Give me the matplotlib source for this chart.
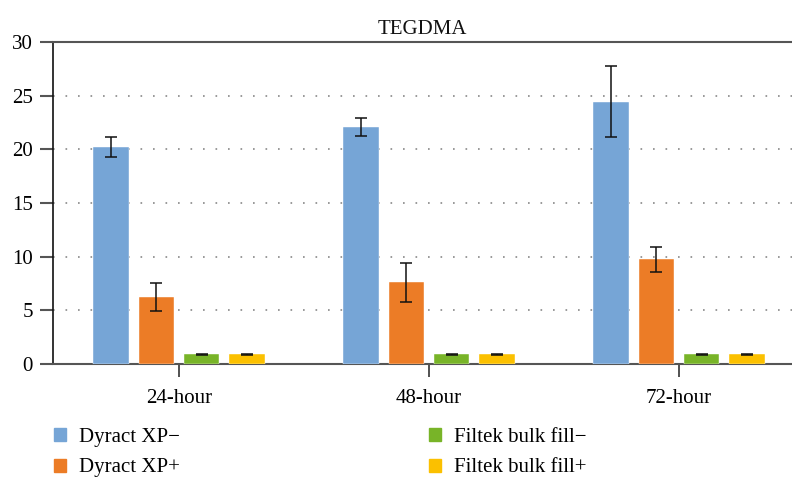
import matplotlib.pyplot as plt
import matplotlib.patches as mpatches
import numpy as np

plt.rcParams['font.family'] = ['Liberation Serif', 'DejaVu Serif']

groups = ["24-hour", "48-hour", "72-hour"]
series = ["Dyract XP\u2212", "Dyract XP+", "Filtek bulk fill\u2212", "Filtek bulk fill+"]
dyract_minus = [20.2, 22.1, 24.45]
dyract_minus_err = [0.95, 0.83, 3.3]
dyract_plus = [6.25, 7.6, 9.75]
dyract_plus_err = [1.3, 1.8, 1.15]
filtek_minus = [0.9, 0.9, 0.9]
filtek_minus_err = [0.03, 0.03, 0.03]
filtek_plus = [0.9, 0.9, 0.9]
filtek_plus_err = [0.03, 0.03, 0.03]
colors = ["#76A5D6", "#EC7C26", "#78B428", "#FBC000"]

values = [dyract_minus, dyract_plus, filtek_minus, filtek_plus]
errors = [dyract_minus_err, dyract_plus_err, filtek_minus_err, filtek_plus_err]

fs = 15

fig = plt.figure(figsize=(7.92, 4.79), dpi=100)
ax = fig.add_axes([53 / 792, 1 - 364 / 479, 1 - 53 / 792, (364 - 42) / 479])

x = np.arange(len(groups))
pitch = 0.181
width = 0.142
for i, (vals, errs) in enumerate(zip(values, errors)):
    pos = x + (i - 1.5) * pitch
    ax.bar(pos, vals, width, color=colors[i], edgecolor="#ffffff", linewidth=0.3,
           label=series[i], zorder=3)
    ax.errorbar(pos, vals, yerr=errs, fmt="none", ecolor="#111111",
                elinewidth=1.1, capsize=4.5, capthick=1.1, zorder=4)

ax.set_ylim(0, 30)
ax.set_xlim(-0.504, 2.452)
ax.set_yticks([0, 5, 10, 15, 20, 25, 30])
ax.set_xticks(x)
ax.set_xticklabels(groups)

for yv in [5, 10, 15, 20, 25]:
    ax.axhline(yv, color="#888888", linestyle=(0, (1, 6.5)), linewidth=1.2, zorder=1)

ax.spines["right"].set_visible(False)
ax.spines["top"].set_color("#555555")
ax.spines["top"].set_linewidth(1.5)
ax.spines["bottom"].set_color("#555555")
ax.spines["bottom"].set_linewidth(1.5)
ax.spines["left"].set_color("#111111")
ax.spines["left"].set_linewidth(1.2)

ax.tick_params(axis="y", direction="out", length=9.5, width=1.5, color="#555555",
               labelsize=fs, pad=5)
ax.tick_params(axis="x", direction="out", length=9, width=1.2, color="#333333",
               labelsize=fs, pad=9)

ax.set_title("TEGDMA", fontsize=fs, pad=6, color="#111111")

handles = [mpatches.Patch(color=c) for c in colors]
leg_kw = dict(frameon=False, fontsize=fs, handlelength=0.58, handleheight=0.58,
              handletextpad=0.62, labelspacing=0.55, loc="upper left", borderaxespad=0,
              borderpad=0)
fig.legend(handles[:2], series[:2], bbox_to_anchor=(54 / 792, 1 - 428 / 479), **leg_kw)
fig.legend(handles[2:], series[2:], bbox_to_anchor=(429 / 792, 1 - 428 / 479), **leg_kw)

fig.savefig("out.png", dpi=100)
